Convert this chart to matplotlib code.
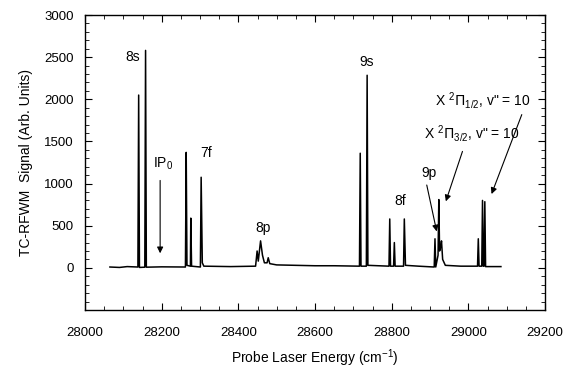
import matplotlib
matplotlib.use("Agg")
import matplotlib.pyplot as plt
from matplotlib.ticker import MultipleLocator

plt.rcParams['font.family'] = ['Liberation Sans', 'DejaVu Sans']

# Spectrum trace (energy in cm^-1, signal in arb. units)
energy = [28065, 28090, 28110, 28138, 28140, 28142, 28156, 28158, 28160, 28200, 28262,
          28264, 28266, 28275, 28276, 28278, 28301, 28303, 28306, 28310, 28380, 28445,
          28449, 28452, 28458, 28463, 28468, 28475, 28478, 28482, 28500, 28550, 28600,
          28650, 28716, 28718, 28720, 28734, 28736, 28738, 28793, 28795, 28797, 28805,
          28807, 28809, 28831, 28833, 28836, 28870, 28911, 28913, 28915, 28921, 28923,
          28925, 28928, 28930, 28933, 28940, 28980, 29024, 29026, 29028, 29035, 29037,
          29039, 29041, 29043, 29045, 29085]
signal = [10, 5, 15, 10, 2050, 5, 8, 2580, 8, 12, 10,
          1370, 30, 20, 590, 20, 10, 1075, 60, 20, 15, 20,
          200, 80, 320, 150, 60, 60, 120, 50, 35, 30, 25,
          25, 20, 1360, 20, 20, 2285, 30, 20, 580, 20, 20,
          300, 20, 20, 580, 30, 20, 10, 345, 10, 150, 810,
          200, 250, 320, 100, 30, 20, 20, 345, 20, 20, 800,
          20, 20, 785, 15, 15]

labels = ["8s", "7f", "8p", "9s", "8f"]
label_x = [28125, 28315, 28465, 28735, 28822]
label_y = [2500, 1357, 476, 2444, 798]

fig = plt.figure(figsize=(5.74, 3.70), dpi=100)
ax = fig.add_axes([85/574, 1 - 310/370, 460/574, 295/370])

ax.plot(energy, signal, color='black', lw=1.1)

ax.set_xlim(28000, 29200)
ax.set_ylim(-500, 3000)
ax.set_xticks([28000, 28200, 28400, 28600, 28800, 29000, 29200])
ax.set_yticks([0, 500, 1000, 1500, 2000, 2500, 3000])
ax.xaxis.set_minor_locator(MultipleLocator(50))
ax.yaxis.set_minor_locator(MultipleLocator(100))
ax.tick_params(which='both', direction='in', top=True, right=True, labelsize=9.5)
ax.tick_params(which='major', length=5)
ax.tick_params(which='minor', length=3)
ax.tick_params(axis='x', pad=12)
ax.tick_params(axis='y', pad=8)
for s in ax.spines.values():
    s.set_linewidth(1.0)

ax.set_xlabel("Probe Laser Energy (cm$^{\\mathregular{-1}}$)", fontsize=10, labelpad=6)
ax.set_ylabel("TC-RFWM  Signal (Arb. Units)", fontsize=10, labelpad=8)

for t, x, y in zip(labels, label_x, label_y):
    ax.text(x, y, t, ha='center', va='center', fontsize=10)

arrow = dict(arrowstyle='-|>', color='black', lw=0.8, mutation_scale=9)
ax.annotate("IP$_\\mathregular{0}$", xy=(28196, 140), xytext=(28203, 1240),
            ha='center', va='center', fontsize=10)
ax.annotate("", xy=(28196, 140), xytext=(28196, 1070), arrowprops=arrow)
ax.annotate("9p", xy=(28919, 400), xytext=(28898, 1120), ha='center', va='center',
            fontsize=10)
ax.annotate("", xy=(28919, 400), xytext=(28890, 1015), arrowprops=arrow)
ax.text(29009, 1591, "X $^{\\mathregular{2}}\\Pi_{\\mathregular{3/2}}$, v\" = 10",
        ha='center', va='center', fontsize=10)
ax.annotate("", xy=(28939, 758), xytext=(28987, 1413), arrowprops=arrow)
ax.text(29039, 1988, "X $^{\\mathregular{2}}\\Pi_{\\mathregular{1/2}}$, v\" = 10",
        ha='center', va='center', fontsize=10)
ax.annotate("", xy=(29058, 845), xytext=(29142, 1849), arrowprops=arrow)

fig.savefig("out.png", dpi=100)
